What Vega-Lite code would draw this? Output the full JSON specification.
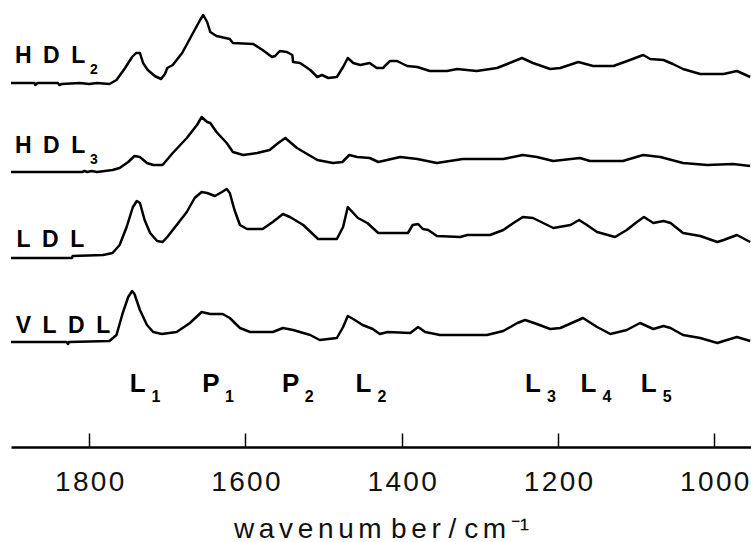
{
  "$schema": "https://vega.github.io/schema/vega-lite/v6.json",
  "width": 740,
  "height": 447,
  "autosize": {"type": "none"},
  "padding": {"left": 11, "top": 0, "right": 0, "bottom": 95},
  "background": "white",
  "config": {"view": {"stroke": null}, "font": "Liberation Sans"},
  "datasets": {
    "spectra": [
      {"series":"HDL2","wn":1900,"a":364},{"series":"HDL2","wn":1870,"a":364},{"series":"HDL2","wn":1869,"a":362},{"series":"HDL2","wn":1866,"a":364},{"series":"HDL2","wn":1840,"a":364},{"series":"HDL2","wn":1838,"a":362},{"series":"HDL2","wn":1835,"a":363},{"series":"HDL2","wn":1812,"a":364},{"series":"HDL2","wn":1800,"a":363},{"series":"HDL2","wn":1790,"a":364},{"series":"HDL2","wn":1774,"a":363},{"series":"HDL2","wn":1765,"a":367},{"series":"HDL2","wn":1754,"a":379},{"series":"HDL2","wn":1745,"a":390},{"series":"HDL2","wn":1740,"a":394},{"series":"HDL2","wn":1735,"a":394},{"series":"HDL2","wn":1731,"a":384},{"series":"HDL2","wn":1725,"a":377},{"series":"HDL2","wn":1716,"a":371},{"series":"HDL2","wn":1708,"a":368},{"series":"HDL2","wn":1703,"a":373},{"series":"HDL2","wn":1700,"a":379},{"series":"HDL2","wn":1693,"a":382},{"series":"HDL2","wn":1681,"a":394},{"series":"HDL2","wn":1674,"a":404},{"series":"HDL2","wn":1665,"a":417},{"series":"HDL2","wn":1658,"a":427},{"series":"HDL2","wn":1654,"a":432},{"series":"HDL2","wn":1649,"a":425},{"series":"HDL2","wn":1645,"a":415},{"series":"HDL2","wn":1637,"a":411},{"series":"HDL2","wn":1620,"a":408},{"series":"HDL2","wn":1616,"a":404},{"series":"HDL2","wn":1590,"a":403},{"series":"HDL2","wn":1578,"a":397},{"series":"HDL2","wn":1566,"a":390},{"series":"HDL2","wn":1562,"a":391},{"series":"HDL2","wn":1556,"a":396},{"series":"HDL2","wn":1547,"a":395},{"series":"HDL2","wn":1540,"a":392},{"series":"HDL2","wn":1539,"a":385},{"series":"HDL2","wn":1530,"a":384},{"series":"HDL2","wn":1517,"a":377},{"series":"HDL2","wn":1508,"a":370},{"series":"HDL2","wn":1502,"a":372},{"series":"HDL2","wn":1494,"a":369},{"series":"HDL2","wn":1483,"a":370},{"series":"HDL2","wn":1475,"a":380},{"series":"HDL2","wn":1469,"a":389},{"series":"HDL2","wn":1462,"a":384},{"series":"HDL2","wn":1453,"a":382},{"series":"HDL2","wn":1441,"a":384},{"series":"HDL2","wn":1432,"a":379},{"series":"HDL2","wn":1424,"a":379},{"series":"HDL2","wn":1415,"a":386},{"series":"HDL2","wn":1406,"a":386},{"series":"HDL2","wn":1393,"a":381},{"series":"HDL2","wn":1380,"a":380},{"series":"HDL2","wn":1364,"a":376},{"series":"HDL2","wn":1342,"a":376},{"series":"HDL2","wn":1329,"a":378},{"series":"HDL2","wn":1304,"a":376},{"series":"HDL2","wn":1278,"a":379},{"series":"HDL2","wn":1265,"a":383},{"series":"HDL2","wn":1246,"a":389},{"series":"HDL2","wn":1232,"a":384},{"series":"HDL2","wn":1210,"a":378},{"series":"HDL2","wn":1197,"a":379},{"series":"HDL2","wn":1174,"a":385},{"series":"HDL2","wn":1155,"a":381},{"series":"HDL2","wn":1129,"a":381},{"series":"HDL2","wn":1108,"a":387},{"series":"HDL2","wn":1091,"a":392},{"series":"HDL2","wn":1082,"a":388},{"series":"HDL2","wn":1065,"a":387},{"series":"HDL2","wn":1053,"a":383},{"series":"HDL2","wn":1040,"a":378},{"series":"HDL2","wn":1018,"a":373},{"series":"HDL2","wn":988,"a":373},{"series":"HDL2","wn":971,"a":376},{"series":"HDL2","wn":954,"a":370},
      {"series":"HDL3","wn":1900,"a":275},{"series":"HDL3","wn":1809,"a":275},{"series":"HDL3","wn":1806,"a":276},{"series":"HDL3","wn":1802,"a":275},{"series":"HDL3","wn":1797,"a":276},{"series":"HDL3","wn":1790,"a":275},{"series":"HDL3","wn":1770,"a":277},{"series":"HDL3","wn":1761,"a":279},{"series":"HDL3","wn":1750,"a":285},{"series":"HDL3","wn":1742,"a":291},{"series":"HDL3","wn":1735,"a":290},{"series":"HDL3","wn":1726,"a":284},{"series":"HDL3","wn":1718,"a":282},{"series":"HDL3","wn":1706,"a":282},{"series":"HDL3","wn":1693,"a":294},{"series":"HDL3","wn":1675,"a":309},{"series":"HDL3","wn":1662,"a":322},{"series":"HDL3","wn":1656,"a":330},{"series":"HDL3","wn":1649,"a":325},{"series":"HDL3","wn":1645,"a":324},{"series":"HDL3","wn":1637,"a":315},{"series":"HDL3","wn":1624,"a":304},{"series":"HDL3","wn":1616,"a":295},{"series":"HDL3","wn":1603,"a":292},{"series":"HDL3","wn":1585,"a":294},{"series":"HDL3","wn":1569,"a":297},{"series":"HDL3","wn":1558,"a":304},{"series":"HDL3","wn":1549,"a":309},{"series":"HDL3","wn":1543,"a":305},{"series":"HDL3","wn":1534,"a":299},{"series":"HDL3","wn":1521,"a":293},{"series":"HDL3","wn":1508,"a":287},{"series":"HDL3","wn":1488,"a":284},{"series":"HDL3","wn":1476,"a":285},{"series":"HDL3","wn":1467,"a":292},{"series":"HDL3","wn":1457,"a":290},{"series":"HDL3","wn":1441,"a":289},{"series":"HDL3","wn":1430,"a":285},{"series":"HDL3","wn":1402,"a":290},{"series":"HDL3","wn":1380,"a":288},{"series":"HDL3","wn":1355,"a":284},{"series":"HDL3","wn":1322,"a":288},{"series":"HDL3","wn":1270,"a":288},{"series":"HDL3","wn":1245,"a":292},{"series":"HDL3","wn":1227,"a":290},{"series":"HDL3","wn":1206,"a":286},{"series":"HDL3","wn":1172,"a":289},{"series":"HDL3","wn":1159,"a":286},{"series":"HDL3","wn":1117,"a":286},{"series":"HDL3","wn":1091,"a":292},{"series":"HDL3","wn":1069,"a":290},{"series":"HDL3","wn":1040,"a":284},{"series":"HDL3","wn":1009,"a":282},{"series":"HDL3","wn":976,"a":283},{"series":"HDL3","wn":954,"a":281},
      {"series":"LDL","wn":1900,"a":189},{"series":"LDL","wn":1822,"a":189},{"series":"LDL","wn":1821,"a":191},{"series":"LDL","wn":1782,"a":192},{"series":"LDL","wn":1770,"a":194},{"series":"LDL","wn":1761,"a":202},{"series":"LDL","wn":1752,"a":220},{"series":"LDL","wn":1744,"a":240},{"series":"LDL","wn":1739,"a":246},{"series":"LDL","wn":1735,"a":244},{"series":"LDL","wn":1729,"a":227},{"series":"LDL","wn":1722,"a":214},{"series":"LDL","wn":1713,"a":206},{"series":"LDL","wn":1706,"a":205},{"series":"LDL","wn":1700,"a":210},{"series":"LDL","wn":1688,"a":222},{"series":"LDL","wn":1675,"a":235},{"series":"LDL","wn":1665,"a":249},{"series":"LDL","wn":1656,"a":255},{"series":"LDL","wn":1649,"a":254},{"series":"LDL","wn":1639,"a":251},{"series":"LDL","wn":1630,"a":255},{"series":"LDL","wn":1624,"a":258},{"series":"LDL","wn":1620,"a":254},{"series":"LDL","wn":1614,"a":237},{"series":"LDL","wn":1607,"a":222},{"series":"LDL","wn":1598,"a":218},{"series":"LDL","wn":1578,"a":218},{"series":"LDL","wn":1565,"a":225},{"series":"LDL","wn":1552,"a":233},{"series":"LDL","wn":1543,"a":230},{"series":"LDL","wn":1526,"a":222},{"series":"LDL","wn":1507,"a":208},{"series":"LDL","wn":1483,"a":208},{"series":"LDL","wn":1475,"a":220},{"series":"LDL","wn":1469,"a":240},{"series":"LDL","wn":1462,"a":234},{"series":"LDL","wn":1456,"a":229},{"series":"LDL","wn":1444,"a":224},{"series":"LDL","wn":1430,"a":214},{"series":"LDL","wn":1392,"a":214},{"series":"LDL","wn":1386,"a":222},{"series":"LDL","wn":1379,"a":223},{"series":"LDL","wn":1373,"a":218},{"series":"LDL","wn":1366,"a":217},{"series":"LDL","wn":1355,"a":211},{"series":"LDL","wn":1325,"a":210},{"series":"LDL","wn":1316,"a":212},{"series":"LDL","wn":1287,"a":212},{"series":"LDL","wn":1270,"a":217},{"series":"LDL","wn":1257,"a":224},{"series":"LDL","wn":1245,"a":230},{"series":"LDL","wn":1232,"a":229},{"series":"LDL","wn":1219,"a":224},{"series":"LDL","wn":1206,"a":219},{"series":"LDL","wn":1184,"a":222},{"series":"LDL","wn":1173,"a":227},{"series":"LDL","wn":1163,"a":222},{"series":"LDL","wn":1150,"a":215},{"series":"LDL","wn":1127,"a":210},{"series":"LDL","wn":1112,"a":217},{"series":"LDL","wn":1099,"a":225},{"series":"LDL","wn":1090,"a":230},{"series":"LDL","wn":1078,"a":224},{"series":"LDL","wn":1065,"a":226},{"series":"LDL","wn":1056,"a":224},{"series":"LDL","wn":1040,"a":214},{"series":"LDL","wn":1018,"a":211},{"series":"LDL","wn":996,"a":205},{"series":"LDL","wn":988,"a":207},{"series":"LDL","wn":971,"a":212},{"series":"LDL","wn":954,"a":205},
      {"series":"VLDL","wn":1900,"a":105},{"series":"VLDL","wn":1829,"a":105},{"series":"VLDL","wn":1827,"a":103},{"series":"VLDL","wn":1826,"a":105},{"series":"VLDL","wn":1774,"a":106},{"series":"VLDL","wn":1765,"a":112},{"series":"VLDL","wn":1757,"a":134},{"series":"VLDL","wn":1750,"a":150},{"series":"VLDL","wn":1745,"a":156},{"series":"VLDL","wn":1742,"a":153},{"series":"VLDL","wn":1735,"a":137},{"series":"VLDL","wn":1726,"a":122},{"series":"VLDL","wn":1718,"a":115},{"series":"VLDL","wn":1707,"a":113},{"series":"VLDL","wn":1688,"a":115},{"series":"VLDL","wn":1671,"a":124},{"series":"VLDL","wn":1656,"a":135},{"series":"VLDL","wn":1645,"a":133},{"series":"VLDL","wn":1629,"a":133},{"series":"VLDL","wn":1620,"a":129},{"series":"VLDL","wn":1607,"a":119},{"series":"VLDL","wn":1594,"a":115},{"series":"VLDL","wn":1565,"a":115},{"series":"VLDL","wn":1552,"a":119},{"series":"VLDL","wn":1539,"a":117},{"series":"VLDL","wn":1517,"a":112},{"series":"VLDL","wn":1505,"a":107},{"series":"VLDL","wn":1483,"a":109},{"series":"VLDL","wn":1475,"a":120},{"series":"VLDL","wn":1469,"a":131},{"series":"VLDL","wn":1462,"a":128},{"series":"VLDL","wn":1450,"a":122},{"series":"VLDL","wn":1437,"a":118},{"series":"VLDL","wn":1428,"a":113},{"series":"VLDL","wn":1418,"a":115},{"series":"VLDL","wn":1389,"a":114},{"series":"VLDL","wn":1379,"a":120},{"series":"VLDL","wn":1370,"a":115},{"series":"VLDL","wn":1351,"a":112},{"series":"VLDL","wn":1291,"a":112},{"series":"VLDL","wn":1270,"a":116},{"series":"VLDL","wn":1252,"a":124},{"series":"VLDL","wn":1242,"a":127},{"series":"VLDL","wn":1227,"a":123},{"series":"VLDL","wn":1210,"a":118},{"series":"VLDL","wn":1197,"a":119},{"series":"VLDL","wn":1168,"a":129},{"series":"VLDL","wn":1150,"a":120},{"series":"VLDL","wn":1133,"a":113},{"series":"VLDL","wn":1112,"a":117},{"series":"VLDL","wn":1095,"a":124},{"series":"VLDL","wn":1078,"a":118},{"series":"VLDL","wn":1065,"a":121},{"series":"VLDL","wn":1056,"a":119},{"series":"VLDL","wn":1040,"a":112},{"series":"VLDL","wn":1018,"a":109},{"series":"VLDL","wn":996,"a":104},{"series":"VLDL","wn":988,"a":106},{"series":"VLDL","wn":971,"a":110},{"series":"VLDL","wn":954,"a":106}
    ],
    "serieslabels": [
      {"name": "HDL", "sub": "2", "wn": 1895, "y": 384},
      {"name": "HDL", "sub": "3", "wn": 1895, "y": 294},
      {"name": "LDL", "sub": "", "wn": 1893, "y": 200},
      {"name": "VLDL", "sub": "", "wn": 1894, "y": 114}
    ],
    "peaks": [
      {"name": "L", "sub": "1", "wn": 1738},
      {"name": "P", "sub": "1", "wn": 1644},
      {"name": "P", "sub": "2", "wn": 1542},
      {"name": "L", "sub": "2", "wn": 1449},
      {"name": "L", "sub": "3", "wn": 1232},
      {"name": "L", "sub": "4", "wn": 1161},
      {"name": "L", "sub": "5", "wn": 1084}
    ]
  },
  "encoding": {
    "x": {
      "field": "wn",
      "type": "quantitative",
      "scale": {"domain": [953, 1900], "reverse": true, "nice": false, "zero": false},
      "axis": {
        "values": [1800, 1600, 1400, 1200, 1000],
        "format": "d",
        "grid": false,
        "domainColor": "black",
        "domainWidth": 2.5,
        "tickColor": "black",
        "tickWidth": 1.5,
        "tickSize": -14,
        "labelFont": "Liberation Sans",
        "labelFontSize": 28,
        "labelColor": "#111111",
        "labelBaseline": "alphabetic",
        "labelPadding": 57,
        "labelFlush": false,
        "labelOverlap": false,
        "labelExpr": "join(split(datum.label, ''), '\u200a')",
        "title": "w\u2006a\u2006v\u2006e\u2006n\u2006u\u2006m\u2006\u2006b\u2006e\u2006r / c\u2006m\u2006\u207b\u00b9",
        "titleFont": "Liberation Sans",
        "titleFontSize": 28,
        "titleFontWeight": "normal",
        "titleColor": "#111111",
        "titleBaseline": "alphabetic",
        "titleAlign": "center",
        "titleX": 370,
        "titleY": 90
      }
    }
  },
  "layer": [
    {
      "data": {"name": "spectra"},
      "mark": {"type": "line", "color": "black", "strokeWidth": 2.5, "strokeJoin": "round"},
      "encoding": {
        "y": {"field": "a", "type": "quantitative", "scale": {"domain": [0, 447], "nice": false, "zero": false}, "axis": null},
        "detail": {"field": "series"}
      }
    },
    {
      "data": {"name": "serieslabels"},
      "mark": {"type": "text", "align": "left", "baseline": "alphabetic", "fontSize": 23, "fontWeight": "bold", "color": "black", "font": "Liberation Sans", "text": {"expr": "join(split(datum.name, ''), '\u2002')"}},
      "encoding": {
        "y": {"field": "y", "type": "quantitative", "axis": null}
      }
    },
    {
      "data": {"name": "serieslabels"},
      "mark": {"type": "text", "align": "left", "baseline": "alphabetic", "fontSize": 14, "fontWeight": "bold", "color": "black", "font": "Liberation Sans", "dx": 75, "dy": 11},
      "encoding": {
        "y": {"field": "y", "type": "quantitative", "axis": null},
        "text": {"field": "sub"}
      }
    },
    {
      "data": {"name": "peaks"},
      "mark": {"type": "text", "align": "center", "baseline": "alphabetic", "fontSize": 26, "fontWeight": "bold", "color": "black", "font": "Liberation Sans"},
      "encoding": {
        "y": {"datum": 55, "type": "quantitative"},
        "text": {"field": "name"}
      }
    },
    {
      "data": {"name": "peaks"},
      "mark": {"type": "text", "align": "left", "baseline": "alphabetic", "fontSize": 16, "fontWeight": "bold", "color": "black", "font": "Liberation Sans", "dx": 14, "dy": 10},
      "encoding": {
        "y": {"datum": 55, "type": "quantitative"},
        "text": {"field": "sub"}
      }
    }
  ]
}
